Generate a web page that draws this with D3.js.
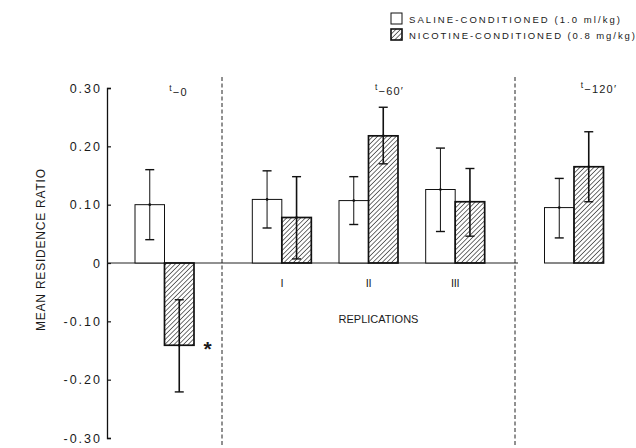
<!DOCTYPE html>
<html lang="en">
<head>
<meta charset="utf-8">
<title>Mean residence ratio</title>
<script src="https://cdn.jsdelivr.net/npm/d3@7"></script>
<style>
    body { margin: 0; background: #fff; }
    svg text { font-family: "Liberation Sans", Arial, sans-serif; fill: #1a1a1a; }
</style>
</head>
<body>
<script>
// categories: one pair of bars each
var categories = ["t0", "I", "II", "III", "t120"];
var panelOf = ["t0", "t60", "t60", "t60", "t120"];
var repLabels = ["", "I", "II", "III", ""];
var panels = ["t0", "t60", "t120"];
var panelTitles = ["\u22120", "\u221260\u2032", "\u2212120\u2032"];

// saline-conditioned (1.0 ml/kg)
var salineMean = [0.100, 0.109, 0.107, 0.126, 0.095];
var salineLow  = [0.040, 0.060, 0.066, 0.054, 0.043];
var salineHigh = [0.160, 0.158, 0.148, 0.197, 0.145];

// nicotine-conditioned (0.8 mg/kg)
var nicotineMean = [-0.141, 0.078, 0.218, 0.105, 0.165];
var nicotineLow  = [-0.221, 0.007, 0.170, 0.046, 0.105];
var nicotineHigh = [-0.063, 0.148, 0.267, 0.162, 0.225];

var yTicks = [-0.30, -0.20, -0.10, 0, 0.10, 0.20, 0.30];
var legendLabels = ["SALINE-CONDITIONED (1.0 ml/kg)", "NICOTINE-CONDITIONED (0.8 mg/kg)"];

var w = 636, h = 448;

var svg = d3.select("body").append("svg")
    .attr("width", w)
    .attr("height", h);

// hatch pattern
var defs = svg.append("defs");
defs.append("pattern")
    .attr("id", "hatch")
    .attr("patternUnits", "userSpaceOnUse")
    .attr("width", 3.3)
    .attr("height", 3.3)
    .attr("patternTransform", "rotate(45)")
    .append("line")
    .attr("x1", 0).attr("y1", 0)
    .attr("x2", 0).attr("y2", 3.3)
    .attr("stroke", "#111")
    .attr("stroke-width", 1.2);

// y scale
var yScale = d3.scaleLinear()
    .domain([-0.30, 0.30])
    .range([438, 88]);

// panel scales (panel edges: axis, dashed dividers, right edge)
var panelRange = { t0: [107, 222], t60: [222, 515], t120: [515, 633] };
var panelScale = {};
panels.forEach(function(p) {
    var cats = categories.filter(function(c, i) { return panelOf[i] === p; });
    panelScale[p] = d3.scaleBand()
        .domain(cats)
        .range(panelRange[p])
        .paddingOuter(p === "t60" ? 0.19 : 0);
});
function xCenter(i) {
    var s = panelScale[panelOf[i]];
    return s(categories[i]) + s.bandwidth() / 2;
}

var pairScale = d3.scaleBand()
    .domain(["saline", "nicotine"])
    .range([-29.5, 29.5]);

// y axis
var yAxis = d3.axisLeft(yScale)
    .tickValues(yTicks)
    .tickSize(-4)
    .tickPadding(5)
    .tickFormat(function(d) { return d === 0 ? "0" : d3.format(".2f")(d).replace("\u2212", "-"); });

var gy = svg.append("g")
    .attr("transform", "translate(107,0)")
    .call(yAxis);
gy.select(".domain").attr("stroke", "#111").attr("stroke-width", 1.3);
gy.selectAll(".tick line").attr("stroke", "#111").attr("stroke-width", 1.2);
gy.selectAll(".tick text")
    .attr("font-size", 12.5)
    .attr("letter-spacing", 2)
    .attr("fill", "#1a1a1a")
    .attr("font-family", "'Liberation Sans', Arial, sans-serif");

svg.append("text")
    .attr("transform", "translate(45,250) rotate(-90)")
    .attr("text-anchor", "middle")
    .attr("font-size", 12)
    .attr("textLength", 162)
    .attr("lengthAdjust", "spacing")
    .text("MEAN RESIDENCE RATIO");

// zero line
svg.append("line")
    .attr("x1", 107).attr("x2", 518)
    .attr("y1", yScale(0)).attr("y2", yScale(0))
    .attr("stroke", "#222").attr("stroke-width", 1);

// dashed dividers
svg.selectAll("line.divider")
    .data([panelRange.t60[0], panelRange.t120[0]])
    .enter()
    .append("line")
    .attr("class", "divider")
    .attr("x1", function(d) { return d; })
    .attr("x2", function(d) { return d; })
    .attr("y1", 77).attr("y2", 446)
    .attr("stroke", "#222")
    .attr("stroke-width", 1)
    .attr("stroke-dasharray", "4,2.5");

// bars
var barData = [];
categories.forEach(function(c, i) {
    barData.push({ i: i, s: "saline", v: salineMean[i], lo: salineLow[i], hi: salineHigh[i] });
    barData.push({ i: i, s: "nicotine", v: nicotineMean[i], lo: nicotineLow[i], hi: nicotineHigh[i] });
});

svg.selectAll("rect.bar")
    .data(barData)
    .enter()
    .append("rect")
    .attr("class", "bar")
    .attr("x", function(d) { return xCenter(d.i) + pairScale(d.s); })
    .attr("width", pairScale.bandwidth())
    .attr("y", function(d) { return yScale(Math.max(0, d.v)); })
    .attr("height", function(d) { return Math.abs(yScale(d.v) - yScale(0)); })
    .attr("fill", function(d) { return d.s === "saline" ? "#fff" : "url(#hatch)"; })
    .attr("stroke", "#111")
    .attr("stroke-width", function(d) { return d.s === "saline" ? 1 : 1.7; });

// error bars
var eb = svg.selectAll("g.err")
    .data(barData)
    .enter()
    .append("g")
    .attr("class", "err")
    .attr("transform", function(d) {
        return "translate(" + (xCenter(d.i) + pairScale(d.s) + pairScale.bandwidth() / 2) + ",0)";
    });
eb.append("line")
    .attr("x1", 0).attr("x2", 0)
    .attr("y1", function(d) { return yScale(d.lo); })
    .attr("y2", function(d) { return yScale(d.hi); })
    .attr("stroke", "#111")
    .attr("stroke-width", function(d) { return d.s === "saline" ? 1 : 1.6; });
eb.selectAll("line.cap")
    .data(function(d) { return [d.lo, d.hi].map(function(v) { return { v: v, s: d.s }; }); })
    .enter()
    .append("line")
    .attr("class", "cap")
    .attr("x1", -4.5).attr("x2", 4.5)
    .attr("y1", function(d) { return yScale(d.v); })
    .attr("y2", function(d) { return yScale(d.v); })
    .attr("stroke", "#111")
    .attr("stroke-width", 1.4);
eb.append("circle")
    .attr("cx", 0)
    .attr("cy", function(d) { return yScale(d.v); })
    .attr("r", 1.3)
    .attr("fill", "#111");

// significance star
svg.append("text")
    .attr("x", xCenter(0) + 43)
    .attr("y", yScale(nicotineMean[0]) + 11)
    .attr("text-anchor", "middle")
    .attr("font-size", 21)
    .attr("font-weight", "bold")
    .text("*");

// replication labels
svg.selectAll("text.rep")
    .data(categories.map(function(c, i) { return i; }).filter(function(i) { return repLabels[i]; }))
    .enter()
    .append("text")
    .attr("class", "rep")
    .attr("x", function(i) { return xCenter(i); })
    .attr("y", 287)
    .attr("text-anchor", "middle")
    .attr("font-size", 11)
    .attr("fill", "#111")
    .attr("letter-spacing", -0.3)
    .text(function(i) { return repLabels[i]; });

svg.append("text")
    .attr("x", xCenter(2) + 10)
    .attr("y", 323)
    .attr("text-anchor", "middle")
    .attr("font-size", 11)
    .text("REPLICATIONS");

// panel titles: t with subscript delay
var titleX = { t0: xCenter(0) + 14, t60: xCenter(2) + 21, t120: xCenter(4) + 25 };
var titleY = { t0: 96, t60: 95, t120: 93 };
panels.forEach(function(p, k) {
    var t = svg.append("text")
        .attr("x", titleX[p])
        .attr("y", titleY[p])
        .attr("text-anchor", "middle")
        .attr("font-size", 11)
        .attr("letter-spacing", 1.2);
    t.append("tspan").attr("font-size", 8.5).attr("dy", -5).text("t");
    t.append("tspan").attr("dy", 5).text(panelTitles[k]);
});

// legend
var legend = svg.selectAll("g.legend")
    .data(legendLabels)
    .enter()
    .append("g")
    .attr("class", "legend")
    .attr("transform", function(d, i) { return "translate(391," + (13 + i * 16) + ")"; });
legend.append("rect")
    .attr("width", 11)
    .attr("height", 11)
    .attr("fill", function(d, i) { return i === 0 ? "#fff" : "url(#hatch)"; })
    .attr("stroke", "#111")
    .attr("stroke-width", function(d, i) { return i === 0 ? 1 : 1.6; });
legend.append("text")
    .attr("x", 18)
    .attr("y", 9.5)
    .attr("font-size", 9.5)
    .attr("textLength", function(d, i) { return i === 0 ? 211 : 226; })
    .attr("lengthAdjust", "spacing")
    .text(function(d) { return d; });
</script>
</body>
</html>
